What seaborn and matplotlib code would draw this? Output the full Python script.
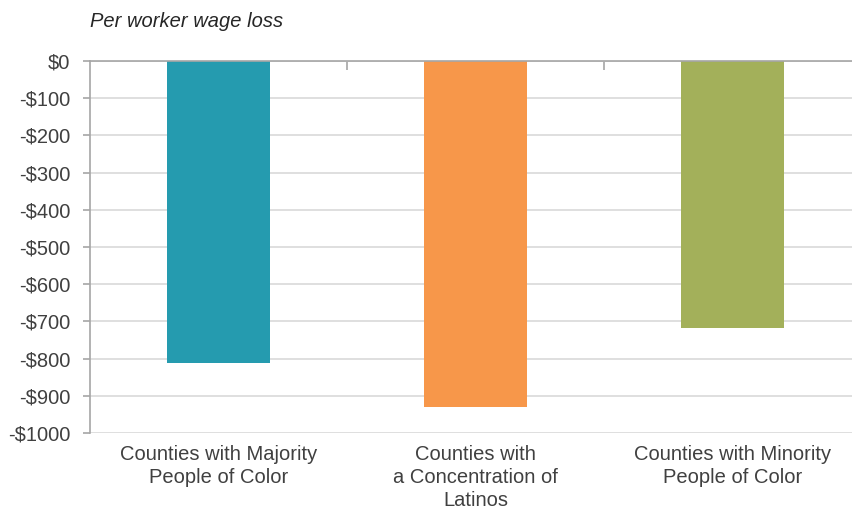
import matplotlib
matplotlib.use("Agg")
import matplotlib.pyplot as plt
import seaborn as sns
import pandas as pd
from matplotlib.ticker import FixedLocator

categories = [
    "Counties with Majority\nPeople of Color",
    "Counties with\na Concentration of\nLatinos",
    "Counties with Minority\nPeople of Color",
]
wage_loss = [-812, -930, -717]
bar_colors = ["#259BAF", "#F7974A", "#A3B05A"]
y_ticks = [0, -100, -200, -300, -400, -500, -600, -700, -800, -900, -1000]
y_labels = ["$0", "-$100", "-$200", "-$300", "-$400", "-$500", "-$600",
            "-$700", "-$800", "-$900", "-$1000"]
title = "Per worker wage loss"

sns.set_theme(style="white")
plt.rcParams["font.family"] = ["Liberation Sans", "DejaVu Sans"]

df = pd.DataFrame({"category": categories, "loss": wage_loss})

fig = plt.figure(figsize=(8.53, 5.12), dpi=100)
ax = fig.add_axes([0.1055, 0.1543, 0.904, 0.7266])

sns.barplot(data=df, x="category", y="loss", hue="category",
            palette=bar_colors, width=0.4, legend=False, ax=ax,
            edgecolor="none", saturation=1)

ax.set_ylim(-1000, 0)
ax.set_xlim(-0.5, 2.5)
ax.set_yticks(y_ticks)
ax.set_yticklabels(y_labels)
ax.yaxis.grid(True, color="#d9d9d9", linewidth=1.2)
ax.set_axisbelow(True)
ax.set_xlabel("")
ax.set_ylabel("")

for side in ["right", "bottom"]:
    ax.spines[side].set_visible(False)
ax.spines["left"].set_color("#a6a6a6")
ax.spines["left"].set_linewidth(1.2)
ax.spines["top"].set_color("#a6a6a6")
ax.spines["top"].set_linewidth(1.2)

ax.tick_params(axis="y", which="major", left=True, length=5, width=1.2,
               color="#a6a6a6", labelsize=14.5, labelcolor="#404040", pad=9)
ax.tick_params(axis="x", which="major", bottom=False, length=0, labelsize=14.5,
               labelcolor="#404040", pad=9)
for lbl in ax.get_xticklabels():
    lbl.set_linespacing(1.25)
ax.xaxis.set_minor_locator(FixedLocator([0.5, 1.5]))
ax.tick_params(axis="x", which="minor", top=True, bottom=False, direction="in",
               length=6.5, width=1.2, color="#a6a6a6")

fig.text(0.1055, 0.958, title, fontsize=14.5, style="italic", color="#262626",
         va="center")

fig.savefig("out.png", dpi=100)
